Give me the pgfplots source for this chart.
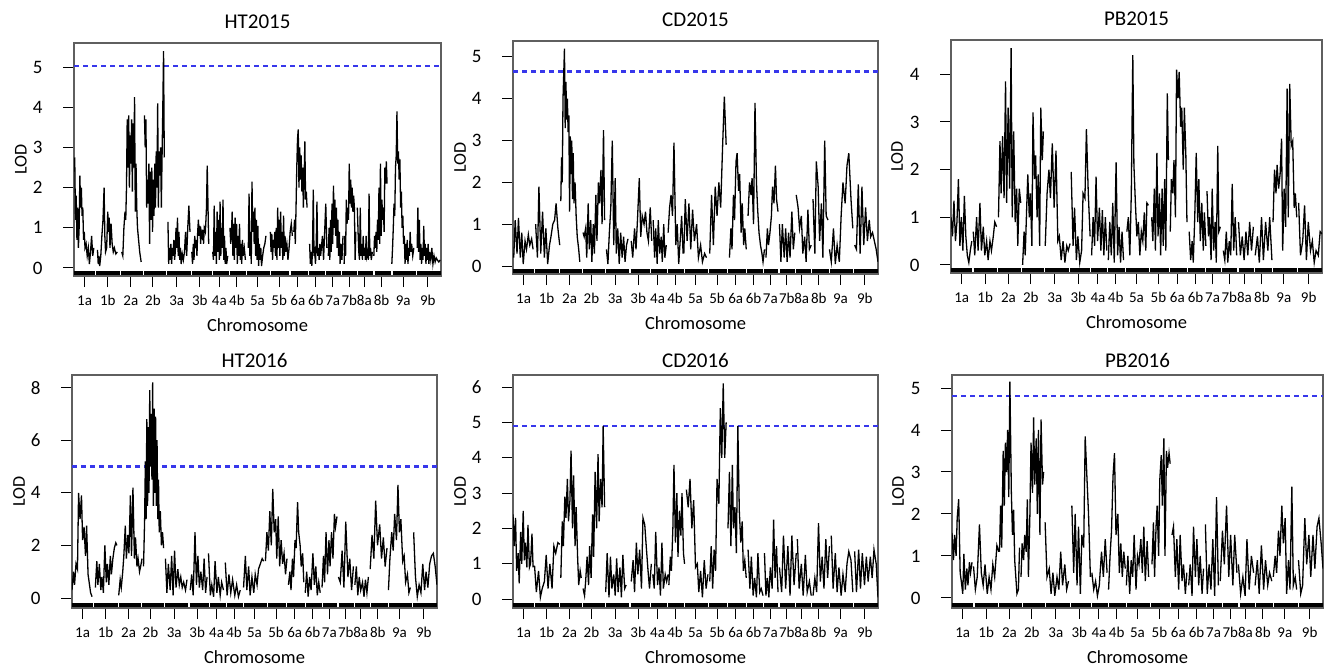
\documentclass[border=0pt]{standalone}
\usepackage{fontspec}
\setmainfont{Carlito}
\usepackage{pgfplots}
\pgfplotsset{compat=1.18}
\definecolor{thr}{RGB}{55,55,235}
\definecolor{boxc}{RGB}{95,95,95}

% chromosome segments of the marker rug (common to all panels)
\newcommand{\rug}[1]{\addplot[black, line width=4.5pt] coordinates {
 (0,#1)(57,#1)(59,nan)(61,#1)(125,#1)(126,nan)(128,#1)(188,#1)(190,nan)(192,#1)(251,#1)(252,nan)
 (254,#1)(318,#1)(320,nan)(322,#1)(375,#1)(376,nan)(378,#1)(421,#1)(422,nan)(424,#1)(468,#1)(469,nan)
 (471,#1)(533,#1)(535,nan)(537,#1)(587,#1)(588,nan)(590,#1)(637,#1)(638,nan)(640,#1)(685,#1)(686,nan)
 (688,#1)(727,#1)(729,nan)(731,#1)(772,#1)(773,nan)(775,#1)(816,#1)(817,nan)(819,#1)(865,#1)(866,nan)
 (868,#1)(932,#1)(933,nan)(935,#1)(1000,#1)};}

\pgfplotsset{
  every axis title/.style={at={(0.5,1.09)}, anchor=center, font=\fontsize{21}{21}\selectfont},
  lodpanel/.style={
    scale only axis, height=233pt, anchor=south west,
    xmin=0, xmax=1000,
    unbounded coords=jump,
    axis line style={draw=boxc, line width=1.6pt},
    tick pos=left, tick align=outside, major tick length=11pt,
    tick style={black, line width=1pt},
    xtick={29,92,155,215,280,343,396,444,500,559,610,659,705,750,791,838,897,964},
    xticklabels={1a,1b,2a,2b,3a,3b,4a,4b,5a,5b,6a,6b,7a,7b,8a,8b,9a,9b},
    xticklabel style={font=\fontsize{15}{15}\selectfont, yshift=-5pt},
    yticklabel style={font=\fontsize{19}{19}\selectfont, xshift=-17pt},
    /pgf/number format/assume math mode=true,
    xlabel=Chromosome, ylabel=LOD,
    xlabel style={font=\fontsize{18.5}{18.5}\selectfont, anchor=center, at={(0.5,-0.21)}},
    ylabel style={font=\fontsize{18}{18}\selectfont, anchor=center, at={(-0.145,0.5)}},
  },
  row2/.style={every axis title/.style={at={(0.5,1.062)}, anchor=center, font=\fontsize{21}{21}\selectfont}},
  lod/.style={black, line width=1.3pt, no marks},
  thresh/.style={thr, line width=2.1pt, dash pattern=on 5pt off 4pt},
}

\begin{document}
\begin{tikzpicture}
\path[use as bounding box] (0pt,0pt) rectangle (1326pt,-667pt);

% ---------------- HT2015
\begin{axis}[lodpanel, at={(74pt,-276pt)}, width=367pt, ymin=-0.2, ymax=5.6, ytick={0,1,2,3,4,5}, title=HT2015]
\addplot[thresh] coordinates {(0,5.02)(1000,5.02)};
\addplot[lod] coordinates {
(2,2.75)(4,1.2)(6,1.8)(8,0.7)(10,1.5)(12,0.5)(14,1.0)(16,2.3)(18,1.5)(20,2.0)(22,1.3)(24,1.5)(26,0.7)(28,0.9)(30,0.5)(33,0.6)(36,0.3)(39,0.5)(42,0.1)(45,0.4)(48,0.8)(51,0.3)(54,0.5)(58,nan)
(64,0.45)(66,0.1)(68,0.3)(70,0.05)(73,0.3)(76,0.8)(79,1.2)(82,2.0)(84,0.8)(86,0.4)(89,0.5)(92,1.4)(94,0.9)(96,1.25)(98,0.5)(101,1.1)(104,0.6)(107,0.4)(110,0.5)(114,0.35)(118,0.4)(124,nan)
(130,0.4)(133,0.3)(136,1.0)(139,1.4)(141,1.2)(143,2.0)(145,3.7)(147,2.5)(149,3.8)(151,2.0)(153,3.3)(155,2.6)(157,3.7)(159,1.9)(161,3.6)(163,2.5)(165,4.25)(167,1.4)(169,2.6)(171,1.5)(173,1.0)(176,0.7)(179,0.4)(183,0.15)(188,nan)
(192,3.8)(194,3.0)(196,3.7)(198,1.5)(200,2.2)(202,1.6)(204,2.6)(206,0.6)(208,2.4)(210,1.2)(212,2.5)(214,0.9)(216,2.2)(218,1.3)(220,2.6)(222,1.5)(224,2.9)(226,2.0)(228,4.1)(230,1.5)(232,2.9)(234,2.3)(236,3.0)(238,1.5)(240,2.8)(242,4.0)(244,5.4)(246,2.75)(250,nan)
(256,1.15)(258,0.1)(260,0.5)(262,0.2)(264,0.6)(266,0.1)(268,0.5)(270,0.3)(272,0.7)(274,0.2)(276,0.4)(278,1.0)(280,0.5)(282,1.25)(284,0.3)(286,0.9)(288,0.2)(290,0.5)(292,0.1)(295,0.35)(298,0.2)(301,0.4)(304,0.9)(307,0.3)(310,1.0)(313,1.55)(316,0.9)(319,nan)
(321,0.4)(323,0.1)(325,0.6)(327,0.2)(329,0.8)(331,0.5)(333,0.7)(335,0.3)(337,0.9)(339,1.2)(341,0.8)(343,1.05)(345,0.6)(347,0.9)(349,0.8)(351,0.95)(353,0.6)(355,1.0)(358,0.9)(361,1.5)(363,2.55)(365,1.6)(367,0.6)(372,nan)
(378,0.4)(380,0.2)(382,1.55)(384,0.3)(386,0.9)(388,0.1)(390,1.4)(392,0.4)(394,1.2)(396,0.2)(398,1.65)(400,0.3)(402,1.0)(404,0.5)(406,1.7)(408,0.2)(410,0.8)(412,0.1)(414,0.5)(416,0.1)(419,0.3)(422,nan)
(425,1.0)(427,0.6)(429,0.85)(431,1.4)(433,0.3)(435,1.1)(437,0.2)(439,1.25)(441,0.5)(443,1.1)(445,0.1)(447,0.8)(449,0.3)(451,1.1)(453,0.2)(455,0.6)(457,0.1)(459,0.7)(461,0.3)(464,0.5)(467,0.2)(471,nan)
(475,0.5)(477,1.85)(479,0.3)(481,0.9)(483,0.1)(485,2.15)(487,0.9)(489,1.4)(491,0.6)(493,1.5)(495,0.3)(497,1.2)(499,0.2)(501,1.05)(503,0.05)(505,0.6)(507,0.2)(509,0.5)(511,0.05)(514,0.3)(517,0.5)(520,0.6)(523,0.8)(529,nan)
(535,0.9)(537,0.4)(539,0.85)(541,0.2)(543,0.7)(545,0.5)(547,0.9)(549,0.3)(551,1.0)(553,0.2)(555,1.5)(557,0.5)(559,1.2)(561,0.3)(563,1.4)(565,0.5)(567,0.9)(569,0.2)(571,1.3)(573,0.3)(575,0.8)(577,0.4)(580,0.6)(583,0.2)(586,0.5)(589,0.9)(592,1.1)(595,0.8)(597,nan)
(599,0.9)(601,1.2)(603,0.6)(605,1.5)(607,2.5)(609,3.2)(611,3.45)(613,2.0)(615,3.0)(617,2.2)(619,2.8)(621,1.9)(623,2.5)(625,1.5)(627,2.2)(629,3.15)(631,1.7)(633,1.9)(635,1.5)(638,nan)
(642,0.6)(644,0.1)(646,0.4)(648,0.05)(650,0.5)(652,1.95)(654,0.3)(656,0.4)(658,0.1)(660,0.6)(662,1.65)(664,0.3)(666,0.5)(668,0.2)(670,0.6)(672,0.3)(674,0.5)(677,0.8)(680,0.2)(683,0.9)(686,1.6)(689,0.5)(691,nan)
(693,0.3)(695,1.0)(697,0.2)(699,1.2)(701,0.4)(703,1.6)(705,0.6)(707,2.05)(709,1.0)(711,1.7)(713,0.8)(715,1.5)(717,0.5)(719,1.2)(721,0.3)(723,0.9)(725,0.1)(727,0.6)(730,0.2)(733,0.8)(735,nan)
(736,0.1)(738,0.8)(740,0.3)(742,1.7)(744,1.1)(746,1.5)(748,1.2)(750,2.6)(752,1.6)(754,2.2)(756,1.5)(758,2.0)(760,1.4)(762,1.8)(764,1.5)(766,0.2)(768,0.9)(770,nan)
(772,1.5)(774,0.9)(776,0.4)(778,0.2)(780,1.5)(782,0.3)(784,0.6)(786,0.2)(788,0.8)(790,0.3)(792,0.5)(794,0.2)(796,0.8)(798,0.3)(800,0.4)(802,0.2)(804,1.85)(806,0.3)(808,0.5)(810,0.2)(813,0.4)(815,nan)
(817,0.3)(819,0.8)(821,0.5)(823,0.9)(825,0.4)(827,1.2)(829,0.7)(831,2.0)(833,0.6)(835,2.6)(837,0.8)(839,1.7)(841,1.2)(843,1.5)(845,0.9)(847,2.5)(849,2.1)(851,2.65)(853,2.1)(860,nan)
(866,0.1)(868,0.5)(870,1.0)(872,1.6)(874,1.3)(876,2.5)(878,2.8)(880,3.9)(882,2.6)(884,2.9)(886,2.2)(888,2.7)(890,1.5)(892,1.9)(894,1.0)(896,1.3)(898,0.6)(900,0.8)(902,0.1)(904,0.6)(906,0.2)(908,0.7)(910,0.1)(912,0.5)(914,0.3)(916,0.9)(918,0.4)(920,0.6)(923,0.3)(926,0.5)(930,nan)
(935,0.5)(937,1.5)(939,0.4)(941,1.2)(943,0.2)(945,0.6)(947,0.1)(949,0.5)(951,0.2)(953,1.05)(955,0.3)(957,0.6)(959,0.1)(961,0.5)(963,0.2)(965,0.6)(967,0.1)(969,0.4)(972,0.2)(975,0.5)(978,0.1)(981,0.3)(984,0.15)(987,0.25)(990,0.2)(994,0.15)(998,0.2)
};
\rug{-0.125}
\end{axis}

% ---------------- CD2015
\begin{axis}[lodpanel, at={(513pt,-274pt)}, width=365pt, ymin=-0.19, ymax=5.38, ytick={0,1,2,3,4,5}, title=CD2015]
\addplot[thresh] coordinates {(0,4.65)(1000,4.65)};
\addplot[lod] coordinates {
(2,0.2)(6,1.1)(11,0.3)(15,1.15)(20,0.2)(24,0.8)(28,0.05)(33,0.6)(37,0.4)(42,0.75)(46,0.5)(51,0.65)(55,0.4)(58,nan)
(62,1.0)(67,0.2)(71,1.9)(76,0.3)(81,1.3)(86,0.2)(90,0.9)(95,0.05)(100,0.5)(104,0.7)(109,1.0)(114,1.1)(118,1.5)(123,0.9)(128,0.5)(129,nan)
(131,1.55)(133,2.6)(135,2.0)(137,4.0)(139,4.6)(141,5.2)(143,3.3)(145,4.4)(147,3.5)(149,4.0)(151,3.2)(153,3.6)(155,1.3)(157,3.1)(159,2.2)(161,3.0)(163,1.6)(165,2.7)(167,1.5)(170,2.0)(173,1.2)(176,0.7)(180,0.4)(183,0.1)(188,nan)
(192,0.8)(195,0.7)(199,0.9)(202,0.2)(206,1.5)(209,0.4)(213,1.1)(216,0.1)(220,1.0)(223,0.3)(227,1.7)(230,0.6)(234,2.0)(237,1.5)(241,2.3)(244,1.0)(248,3.25)(251,1.1)(253,nan)
(256,0.4)(260,0.05)(264,0.8)(268,1.4)(272,3.0)(276,0.5)(280,2.1)(283,0.3)(287,0.9)(291,0.05)(295,0.8)(299,0.2)(303,0.7)(307,0.1)(311,0.5)(315,0.65)(320,nan)
(324,0.6)(328,0.2)(333,0.9)(337,0.4)(341,1.1)(346,2.1)(350,0.7)(354,1.2)(359,1.0)(363,1.3)(367,0.8)(371,0.6)(376,1.4)(380,0.6)(382,nan)
(384,1.1)(388,0.2)(391,0.9)(395,0.05)(398,1.1)(402,0.3)(406,0.7)(409,0.1)(413,1.0)(416,0.2)(420,0.5)(422,nan)
(425,0.8)(429,1.4)(433,1.7)(437,1.2)(441,2.95)(446,0.5)(450,1.0)(454,0.05)(458,0.6)(462,1.2)(466,0.3)(467,nan)
(468,0.3)(472,1.6)(477,0.6)(482,1.5)(487,0.4)(492,1.35)(497,0.6)(503,1.0)(508,0.2)(514,0.5)(519,0.1)(525,0.3)(530,0.2)(535,nan)
(539,0.3)(544,1.7)(549,0.5)(554,1.9)(559,1.2)(564,2.0)(569,1.4)(574,2.8)(579,4.05)(584,2.9)(588,nan)
(593,0.2)(597,0.9)(600,0.4)(604,1.7)(607,1.1)(611,2.5)(614,2.7)(618,1.8)(621,2.2)(625,0.8)(628,1.5)(632,0.5)(635,0.9)(639,0.4)(641,nan)
(644,1.2)(648,2.0)(652,1.7)(655,2.1)(659,1.0)(663,3.9)(667,2.0)(670,1.4)(674,0.8)(678,0.5)(682,0.3)(685,0.1)(689,0.4)(691,nan)
(693,0.2)(697,0.9)(700,0.5)(704,0.8)(708,1.2)(711,1.9)(715,1.5)(719,2.4)(722,1.6)(726,1.3)(728,nan)
(730,1.0)(734,0.1)(738,1.0)(743,0.2)(747,0.9)(751,0.1)(755,0.8)(759,0.2)(764,1.3)(768,0.4)(772,0.8)(774,nan)
(776,1.7)(781,1.4)(785,0.9)(790,1.2)(794,0.3)(799,0.7)(803,0.1)(808,1.35)(812,0.4)(817,0.5)(819,nan)
(822,1.6)(827,0.3)(831,2.5)(836,1.9)(840,0.6)(845,1.5)(849,0.2)(854,3.0)(858,1.2)(863,1.1)(865,nan)
(867,0.4)(872,0.1)(878,0.9)(883,0.05)(888,0.5)(894,0.1)(899,1.2)(904,2.0)(910,1.5)(915,2.4)(920,2.7)(926,1.6)(931,0.9)(933,nan)
(936,0.5)(941,0.4)(946,1.95)(951,0.3)(956,1.9)(961,0.5)(966,1.4)(971,0.6)(976,1.1)(980,0.7)(985,0.8)(990,0.6)(995,0.4)(1000,0.1)
};
\rug{-0.12}
\end{axis}

% ---------------- PB2015
\begin{axis}[lodpanel, at={(951pt,-273pt)}, width=371pt, ymin=-0.17, ymax=4.72, ytick={0,1,2,3,4}, title=PB2015]
\addplot[lod] coordinates {
(0,1.0)(4,0.6)(8,1.35)(12,0.5)(16,0.9)(20,1.8)(24,0.4)(28,1.0)(32,0.3)(36,1.45)(40,0.6)(44,0.2)(48,0.05)(52,0.3)(56,0.5)(58,nan)
(60,0.7)(64,0.2)(69,1.0)(73,0.3)(78,1.3)(82,0.3)(87,0.8)(91,0.2)(96,0.5)(100,0.1)(105,0.5)(109,0.3)(114,0.6)(118,0.9)(123,0.8)(125,nan)
(128,1.0)(132,2.6)(135,1.5)(139,2.7)(143,1.4)(147,3.85)(150,1.3)(154,3.3)(158,1.6)(162,4.55)(165,1.0)(169,2.8)(173,0.9)(177,1.6)(180,0.4)(184,1.6)(188,1.3)(190,nan)
(193,0.0)(197,0.7)(200,0.2)(204,1.2)(207,1.9)(211,1.0)(214,1.5)(218,0.4)(221,3.2)(225,1.8)(228,2.3)(232,1.0)(235,1.9)(239,0.4)(242,3.3)(246,2.2)(249,2.8)(251,nan)
(254,0.4)(259,1.5)(264,2.0)(268,1.4)(273,2.55)(278,1.2)(283,2.4)(288,0.5)(292,0.6)(297,0.1)(302,0.5)(307,0.05)(312,0.4)(316,0.3)(321,0.45)(322,nan)
(324,1.95)(329,0.4)(333,1.2)(338,0.1)(342,0.6)(347,0.05)(352,0.3)(356,1.5)(361,1.4)(365,2.85)(370,1.5)(375,0.6)(377,nan)
(379,0.2)(383,1.0)(387,0.4)(391,1.85)(395,0.5)(400,1.2)(404,0.3)(408,1.15)(412,0.2)(416,1.0)(420,0.3)(422,nan)
(424,0.1)(428,0.9)(432,0.2)(436,1.3)(440,0.05)(445,2.15)(449,0.2)(453,0.8)(457,0.05)(461,0.7)(465,0.1)(470,nan)
(474,0.7)(478,1.0)(482,0.2)(486,1.5)(490,4.4)(493,2.1)(497,1.3)(501,0.6)(505,0.9)(509,0.2)(513,0.7)(517,0.5)(521,1.1)(525,0.3)(528,1.3)(532,1.25)(537,nan)
(541,1.0)(544,0.5)(548,1.6)(551,0.3)(555,2.35)(558,0.6)(562,1.5)(565,0.2)(569,1.6)(572,0.4)(576,1.8)(579,0.3)(583,3.6)(586,2.2)(588,nan)
(591,0.7)(594,1.8)(598,1.5)(601,2.2)(605,1.0)(608,4.1)(612,3.5)(615,4.05)(619,2.9)(622,3.3)(626,2.0)(629,3.3)(633,2.3)(636,0.9)(639,nan)
(642,0.7)(646,0.1)(650,0.5)(653,0.05)(657,1.0)(661,2.35)(665,0.9)(668,1.8)(672,0.5)(676,1.3)(680,0.3)(683,1.1)(687,0.4)(688,nan)
(690,1.55)(694,0.6)(697,1.0)(701,0.1)(704,1.6)(708,0.3)(712,0.9)(715,0.05)(719,2.5)(722,0.7)(726,0.8)(730,nan)
(734,0.3)(738,0.1)(742,0.7)(746,0.05)(750,0.5)(754,0.2)(758,1.7)(762,0.3)(766,1.0)(770,0.2)(772,nan)
(775,0.9)(780,0.2)(785,0.6)(790,0.1)(795,0.7)(800,0.2)(805,0.9)(810,0.3)(815,0.8)(817,nan)
(820,0.2)(826,0.6)(831,0.05)(837,1.0)(842,0.1)(848,0.9)(854,0.3)(859,1.0)(865,0.1)(866,nan)
(868,0.9)(872,2.0)(876,1.5)(879,2.1)(883,1.6)(887,1.9)(891,2.65)(894,0.3)(898,1.6)(902,0.8)(906,3.7)(909,1.0)(913,3.8)(917,2.5)(921,2.6)(925,1.2)(928,1.5)(932,1.0)(934,nan)
(937,1.3)(942,0.2)(948,0.5)(953,1.25)(958,0.1)(963,0.9)(969,0.3)(974,0.5)(979,0.05)(984,0.3)(990,0.2)(995,0.7)(1000,0.65)
};
\rug{-0.105}
\end{axis}

% ---------------- HT2016
\begin{axis}[lodpanel, row2, at={(72pt,-608pt)}, width=365pt, ymin=-0.38, ymax=8.48, ytick={0,2,4,6,8}, title=HT2016]
\addplot[thresh] coordinates {(0,5.0)(1000,5.0)};
\addplot[lod] coordinates {
(0,0.3)(4,1.0)(7,0.5)(11,1.3)(15,1.1)(18,4.0)(22,3.0)(26,3.9)(29,2.2)(33,2.7)(37,1.6)(40,2.75)(44,0.9)(48,0.5)(51,0.2)(55,0.05)(60,nan)
(64,0.4)(68,1.4)(71,0.5)(75,1.3)(79,0.3)(82,0.8)(86,0.2)(90,2.0)(94,0.6)(97,1.3)(101,0.5)(105,1.6)(108,0.9)(112,1.5)(116,1.9)(120,2.1)(123,2.0)(126,nan)
(128,0.1)(132,0.7)(135,0.4)(139,1.0)(142,1.6)(146,2.75)(149,1.5)(153,2.4)(156,1.7)(160,3.9)(163,1.6)(167,4.2)(171,1.5)(174,2.3)(178,1.2)(181,1.5)(185,1.0)(188,1.2)(192,1.5)(194,nan)
(196,1.2)(199,3.0)(201,5.2)(203,3.0)(205,6.8)(207,3.5)(209,6.5)(211,4.0)(213,7.9)(215,5.0)(217,7.0)(219,4.5)(221,8.2)(223,3.5)(225,7.2)(227,4.0)(229,6.9)(231,3.5)(233,6.0)(235,3.0)(237,4.5)(239,2.5)(242,3.3)(245,2.0)(248,2.5)(251,1.9)(253,nan)
(256,1.5)(260,0.2)(264,1.3)(269,0.3)(273,1.6)(277,0.1)(281,1.8)(285,0.4)(290,1.1)(294,0.5)(298,0.8)(302,0.4)(306,0.6)(311,0.3)(315,0.7)(320,nan)
(324,0.3)(328,0.9)(332,0.1)(337,2.5)(341,0.5)(345,1.6)(349,0.4)(353,1.0)(358,0.3)(362,1.5)(366,0.2)(370,0.8)(372,nan)
(374,1.7)(379,0.1)(383,0.5)(388,0.05)(392,1.4)(397,0.2)(401,0.8)(406,0.1)(410,0.6)(415,0.3)(418,nan)
(420,1.35)(425,0.1)(430,0.9)(435,0.2)(440,0.7)(446,0.1)(451,0.5)(456,0.05)(461,0.3)(466,nan)
(470,0.4)(475,1.6)(479,0.3)(484,1.2)(488,0.1)(493,0.8)(498,0.2)(502,0.9)(507,0.5)(511,1.1)(516,1.3)(521,1.5)(525,1.4)(528,nan)
(530,1.4)(534,2.5)(538,1.8)(542,3.3)(546,2.0)(550,4.15)(554,2.5)(558,3.0)(561,1.5)(565,3.1)(569,1.2)(573,2.2)(577,1.3)(581,1.7)(585,0.9)(589,1.5)(591,nan)
(593,0.5)(597,1.0)(600,0.3)(604,1.5)(607,0.8)(611,2.2)(614,1.9)(618,3.65)(621,2.5)(625,2.0)(628,1.2)(632,1.7)(635,0.6)(637,nan)
(639,0.2)(643,1.0)(647,0.05)(651,0.8)(655,0.3)(660,1.7)(664,0.5)(668,1.2)(672,0.1)(676,0.6)(680,0.2)(683,nan)
(685,0.4)(689,1.6)(692,0.6)(696,2.5)(700,0.9)(704,2.2)(707,1.2)(711,2.5)(715,1.5)(719,3.2)(722,2.7)(726,3.1)(728,nan)
(730,0.8)(735,0.6)(740,1.8)(745,0.4)(750,2.9)(756,0.8)(761,1.5)(766,0.3)(771,1.2)(773,nan)
(775,0.5)(779,1.2)(783,0.1)(787,0.8)(791,0.3)(796,0.6)(800,0.05)(804,0.7)(808,0.2)(812,0.8)(815,nan)
(817,1.1)(822,2.4)(827,1.5)(832,3.7)(837,2.0)(843,2.8)(848,1.5)(853,2.3)(858,1.2)(863,1.9)(865,nan)
(867,0.3)(871,1.5)(876,2.5)(880,1.8)(884,3.2)(889,2.2)(893,4.3)(897,2.5)(901,3.0)(906,1.4)(910,1.6)(914,0.6)(919,0.9)(923,0.2)(927,0.4)(932,nan)
(936,2.5)(941,0.8)(946,0.05)(951,0.5)(956,0.2)(961,1.3)(966,0.3)(970,1.0)(975,0.4)(980,1.3)(985,1.6)(990,1.7)(995,1.2)(1000,0.5)
};
\rug{-0.27}
\end{axis}

% ---------------- CD2016
\begin{axis}[lodpanel, row2, at={(513pt,-608pt)}, width=365pt, ymin=-0.25, ymax=6.34, ytick={0,1,2,3,4,5,6}, title=CD2016]
\addplot[thresh] coordinates {(0,4.9)(1000,4.9)};
\addplot[lod] coordinates {
(0,2.4)(3,1.5)(7,2.3)(10,0.8)(14,1.3)(17,0.45)(21,1.9)(24,1.0)(28,2.5)(31,1.1)(34,1.6)(38,0.9)(41,2.1)(45,0.9)(48,1.0)(52,1.85)(55,0.9)(57,nan)
(59,0.95)(64,0.2)(70,0.8)(75,0.05)(80,0.3)(86,0.5)(91,1.25)(96,0.3)(101,1.0)(107,0.3)(112,1.5)(117,1.3)(123,1.6)(128,1.55)(129,nan)
(131,0.6)(135,2.2)(138,1.5)(142,2.9)(145,2.3)(149,3.4)(152,2.2)(156,2.8)(159,4.2)(163,2.0)(166,3.5)(170,1.5)(173,2.6)(177,1.2)(180,0.4)(184,0.8)(187,0.6)(190,nan)
(192,0.3)(196,0.1)(199,0.5)(203,1.2)(207,0.4)(210,1.5)(214,0.6)(218,2.4)(221,1.2)(225,3.6)(229,2.0)(233,4.1)(236,2.2)(240,3.4)(244,2.6)(247,4.9)(251,2.6)(252,nan)
(254,0.2)(258,1.3)(263,0.05)(267,1.2)(271,0.3)(276,0.7)(280,0.1)(284,1.15)(288,0.2)(293,0.9)(297,0.05)(301,1.25)(306,0.3)(310,0.4)(318,nan)
(324,0.5)(329,1.1)(333,0.2)(338,1.6)(342,0.7)(347,1.4)(352,0.3)(356,2.3)(361,2.1)(365,1.5)(370,0.8)(374,0.3)(379,1.0)(381,nan)
(383,0.7)(387,0.3)(391,1.9)(396,0.4)(400,0.9)(404,0.1)(408,1.6)(412,0.3)(417,0.7)(421,0.5)(425,0.7)(426,nan)
(427,0.4)(431,1.2)(434,0.8)(438,2.0)(441,3.8)(445,1.6)(449,3.0)(452,1.2)(456,2.5)(460,1.8)(463,3.0)(467,1.3)(470,1.0)(472,nan)
(475,3.1)(480,2.6)(485,3.4)(490,2.0)(495,2.8)(500,0.9)(505,1.0)(509,0.2)(514,0.8)(519,0.05)(524,1.1)(529,0.3)(534,0.7)(536,nan)
(539,0.5)(543,1.5)(547,0.3)(551,1.4)(555,0.8)(559,3.4)(564,2.7)(568,5.4)(572,4.0)(576,6.1)(580,4.0)(584,5.0)(586,nan)
(589,2.0)(593,3.6)(597,1.5)(601,3.8)(604,2.0)(608,2.6)(612,1.3)(616,4.9)(620,2.5)(624,1.6)(628,2.2)(631,0.8)(635,1.1)(639,0.6)(641,nan)
(644,1.4)(649,0.3)(653,1.2)(658,0.1)(662,0.6)(667,0.05)(671,1.3)(676,0.2)(680,0.3)(685,0.1)(687,nan)
(689,1.3)(693,0.1)(697,0.6)(701,0.05)(705,0.9)(710,0.3)(714,2.25)(718,0.6)(722,1.5)(726,0.2)(728,nan)
(730,0.9)(736,0.2)(741,1.8)(747,0.3)(753,1.5)(759,0.1)(764,1.8)(770,0.4)(776,1.3)(777,nan)
(779,1.7)(784,0.3)(790,1.0)(795,0.1)(801,1.25)(806,0.2)(812,0.5)(817,0.1)(819,nan)
(822,0.1)(827,0.6)(832,0.2)(837,2.15)(842,0.5)(847,1.2)(852,0.3)(857,1.7)(862,0.6)(867,1.5)(869,nan)
(872,1.8)(877,0.3)(883,1.3)(888,0.2)(893,0.9)(899,0.1)(904,0.7)(910,0.2)(915,1.0)(920,1.35)(926,1.1)(931,0.2)(933,nan)
(936,1.35)(941,0.2)(947,1.4)(952,0.3)(957,1.3)(963,0.4)(968,1.2)(973,0.5)(979,1.2)(984,0.6)(989,1.4)(995,1.0)(1000,0.05)
};
\rug{-0.165}
\end{axis}

% ---------------- PB2016
\begin{axis}[lodpanel, row2, at={(952pt,-608pt)}, width=371pt, ymin=-0.24, ymax=5.31, ytick={0,1,2,3,4,5}, title=PB2016]
\addplot[thresh] coordinates {(0,4.8)(1000,4.8)};
\addplot[lod] coordinates {
(0,1.55)(4,0.9)(7,1.5)(11,1.0)(14,1.9)(18,2.35)(22,0.6)(25,0.4)(29,0.1)(32,1.05)(36,0.2)(40,0.7)(43,0.3)(47,0.85)(50,0.6)(54,0.85)(56,nan)
(58,0.75)(63,0.2)(68,0.5)(74,1.75)(79,0.6)(84,0.3)(89,0.8)(95,0.1)(100,0.5)(105,0.2)(110,0.8)(115,0.5)(121,1.25)(126,1.1)(127,nan)
(128,1.1)(131,2.2)(134,1.2)(138,3.5)(141,2.2)(144,3.7)(147,3.0)(150,4.0)(153,2.4)(156,5.15)(160,2.5)(163,1.5)(166,2.1)(169,0.9)(172,0.5)(175,0.1)(179,0.2)(182,1.2)(184,nan)
(186,0.5)(189,1.3)(193,0.9)(196,1.5)(200,1.1)(203,2.35)(206,0.5)(210,2.0)(213,3.7)(217,2.5)(220,4.3)(223,2.7)(227,3.8)(230,2.0)(233,4.0)(237,1.5)(240,4.25)(244,2.7)(247,3.0)(249,nan)
(251,1.8)(256,0.5)(262,0.7)(267,0.1)(272,0.6)(277,0.05)(283,0.5)(288,0.2)(293,1.1)(298,0.3)(304,0.8)(309,0.2)(314,0.4)(318,nan)
(323,2.2)(328,0.6)(332,2.0)(337,0.3)(341,1.7)(346,0.1)(350,1.5)(355,1.2)(359,3.85)(364,2.8)(368,2.0)(373,0.5)(375,nan)
(377,0.6)(382,0.2)(387,0.4)(392,0.05)(397,0.3)(403,1.1)(408,0.5)(413,1.4)(418,0.6)(420,nan)
(422,0.2)(426,1.0)(430,1.6)(434,2.9)(438,3.45)(442,1.5)(447,2.0)(451,0.6)(455,1.3)(459,0.5)(463,1.1)(467,0.7)(468,nan)
(470,0.3)(474,1.0)(479,0.1)(483,0.9)(487,0.5)(491,1.5)(496,0.2)(500,1.0)(504,0.8)(509,1.4)(513,0.6)(517,1.7)(521,0.4)(526,1.35)(530,0.5)(535,nan)
(539,0.8)(543,1.8)(546,0.5)(550,1.7)(553,2.2)(557,1.0)(560,2.8)(564,3.4)(567,2.2)(571,3.8)(574,1.0)(578,3.5)(581,3.1)(585,3.45)(588,3.2)(590,nan)
(593,1.5)(597,1.7)(602,0.5)(606,1.4)(611,0.2)(615,1.5)(620,0.4)(624,0.8)(629,0.1)(633,0.6)(635,nan)
(638,0.3)(642,0.8)(647,0.05)(651,1.7)(656,0.5)(660,1.4)(665,0.3)(669,1.0)(674,0.1)(678,0.7)(680,nan)
(683,1.75)(688,0.1)(693,0.8)(698,0.2)(703,1.4)(708,0.05)(713,2.4)(718,0.3)(720,nan)
(723,0.4)(729,1.6)(734,0.8)(740,2.2)(746,0.5)(751,1.5)(757,0.3)(762,1.5)(768,0.6)(770,nan)
(772,0.8)(778,0.1)(784,0.5)(790,0.05)(795,1.4)(801,0.2)(807,1.0)(813,0.6)(815,nan)
(817,0.3)(823,0.9)(828,0.1)(834,1.25)(840,0.2)(845,0.9)(851,0.3)(856,0.6)(862,0.4)(864,nan)
(866,0.5)(871,1.0)(875,0.6)(880,1.6)(884,1.0)(889,2.2)(893,1.3)(898,1.9)(902,0.1)(907,0.9)(911,0.2)(916,2.65)(920,0.3)(925,0.5)(929,0.2)(931,nan)
(934,0.9)(940,0.1)(945,0.3)(951,1.9)(956,0.8)(962,1.5)(967,0.5)(973,1.5)(978,0.7)(984,1.7)(989,1.9)(995,1.3)(1000,0.7)
};
\rug{-0.17}
\end{axis}
\end{tikzpicture}
\end{document}
